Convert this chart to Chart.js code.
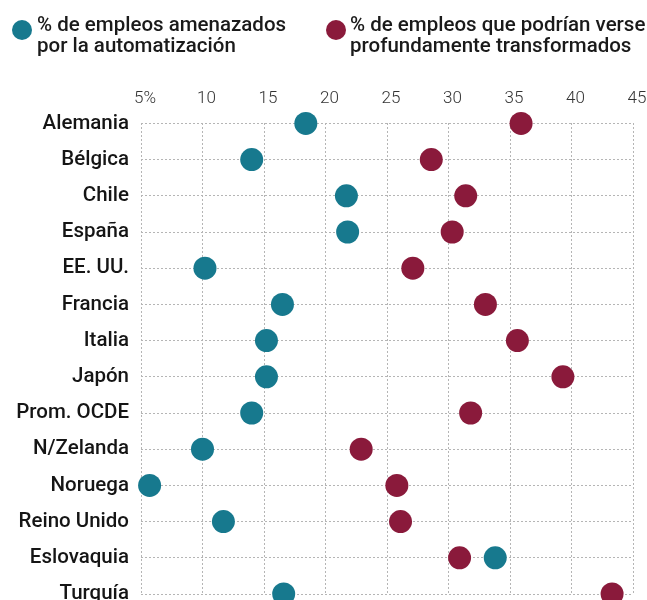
<!DOCTYPE html>
<html>
<head>
<meta charset="utf-8">
<script src="https://cdn.jsdelivr.net/npm/chart.js@4"></script>
<style>
  html, body { margin: 0; padding: 0; background: #fff; }
  #wrap { position: relative; width: 647px; height: 600px; overflow: hidden; }
  canvas { position: absolute; left: 0; top: 0; }
  .leg { position: absolute; font-family: Roboto, sans-serif; font-weight: 500; font-size: 20.5px; line-height: 21px; color: #1a1a1a; white-space: nowrap; }
  .dot { position: absolute; width: 20px; height: 20px; border-radius: 50%; }
</style>
</head>
<body>
<div id="wrap">
  <canvas id="c" width="647" height="600"></canvas>
  <div class="dot" id="d1" style="left:12px; top:20px;"></div>
  <div class="leg" id="l1" style="left:37px; top:14px;"></div>
  <div class="dot" id="d2" style="left:326px; top:20px;"></div>
  <div class="leg" id="l2" style="left:350px; top:14px;"></div>
</div>
<script>
// ---- data ----
const countries = ["Alemania", "Bélgica", "Chile", "España", "EE. UU.", "Francia", "Italia", "Japón", "Prom. OCDE", "N/Zelanda", "Noruega", "Reino Unido", "Eslovaquia", "Turquía"];
const amenazados = [18.4, 14.0, 21.7, 21.8, 10.2, 16.5, 15.2, 15.2, 14.0, 10.0, 5.7, 11.7, 33.8, 16.6];
const transformados = [35.9, 28.6, 31.4, 30.3, 27.1, 33.0, 35.6, 39.3, 31.8, 22.9, 25.8, 26.1, 30.9, 43.3];
const seriesNames = [["% de empleos amenazados", "por la automatización"], ["% de empleos que podrían verse", "profundamente transformados"]];
const xTicks = [5, 10, 15, 20, 25, 30, 35, 40, 45];
const colors = ["#17798e", "#8a1a3b"];

// legend (HTML text)
document.getElementById("l1").innerHTML = seriesNames[0].join("<br>");
document.getElementById("l2").innerHTML = seriesNames[1].join("<br>");
document.getElementById("d1").style.background = colors[0];
document.getElementById("d2").style.background = colors[1];

new Chart(document.getElementById("c"), {
  type: "line",
  data: {
    labels: countries,
    datasets: [
      { label: seriesNames[0].join(" "), data: amenazados, showLine: false, pointRadius: 11.5, pointHoverRadius: 11.5, pointBackgroundColor: colors[0], pointBorderWidth: 0, borderColor: colors[0], clip: false },
      { label: seriesNames[1].join(" "), data: transformados, showLine: false, pointRadius: 11.5, pointHoverRadius: 11.5, pointBackgroundColor: colors[1], pointBorderWidth: 0, borderColor: colors[1], clip: false }
    ]
  },
  options: {
    indexAxis: "y",
    responsive: false,
    animation: false,
    layout: { autoPadding: false, padding: { top: 75, right: 14, bottom: 6, left: 0 } },
    plugins: { legend: { display: false }, tooltip: { enabled: false } },
    scales: {
      x: {
        type: "linear",
        position: "top",
        min: 5, max: 45,
        afterBuildTicks: (s) => { s.ticks = xTicks.map(v => ({ value: v })); },
        afterFit: (s) => { s.paddingLeft = 0; s.paddingRight = 0; },
        ticks: {
          padding: 14,
          labelOffset: 4,
          color: "#333",
          font: { family: "Roboto", weight: 300, size: 17 },
          callback: (v) => v === 5 ? "5%" : String(v)
        },
        grid: { color: "#b5b5b5", lineWidth: 1, drawTicks: false },
        border: { display: false, dash: [2, 2] }
      },
      y: {
        type: "category",
        offset: false,
        afterFit: (s) => { s.width = 141; s.paddingTop = 0; s.paddingBottom = 0; },
        ticks: {
          padding: 12,
          color: "#151515",
          font: { family: "Roboto", weight: 500, size: 20.5 }
        },
        grid: { color: "#b5b5b5", lineWidth: 1, drawTicks: false },
        border: { display: false, dash: [2, 2] }
      }
    }
  }
});
</script>
</body>
</html>
